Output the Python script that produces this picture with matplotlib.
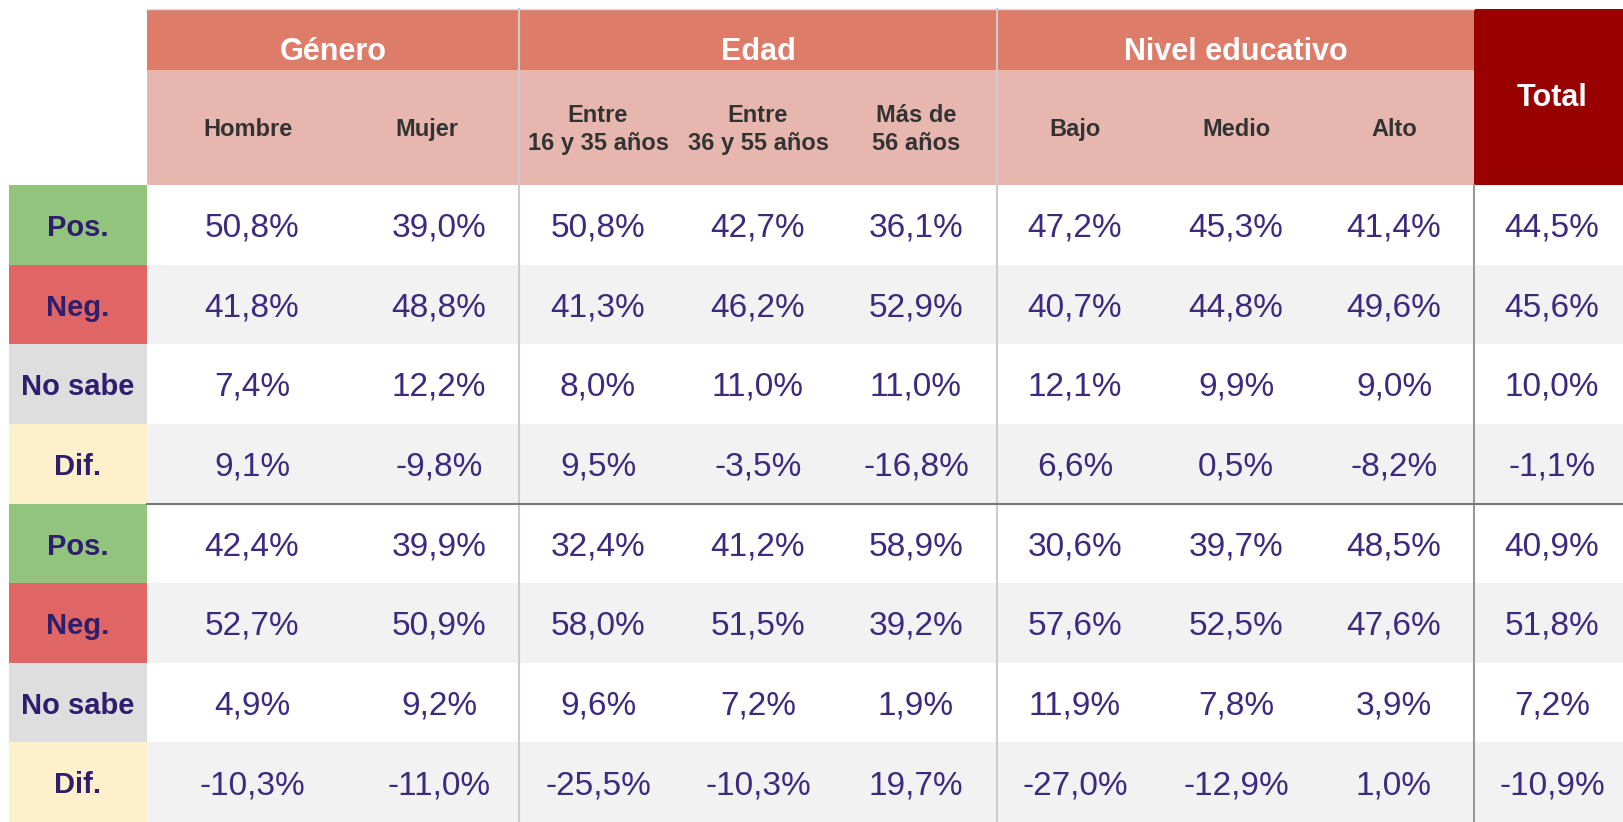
import matplotlib.pyplot as plt
from matplotlib.patches import Rectangle

plt.rcParams['font.family'] = ['Liberation Sans', 'DejaVu Sans']

groups = ["Género", "Edad", "Nivel educativo"]
subheaders = ["Hombre", "Mujer", "Entre\n16 y 35 años", "Entre\n36 y 55 años",
              "Más de\n56 años", "Bajo", "Medio", "Alto"]
row_labels = ["Pos.", "Neg.", "No sabe", "Dif."]

pos_1 = [50.8, 39.0, 50.8, 42.7, 36.1, 47.2, 45.3, 41.4, 44.5]
neg_1 = [41.8, 48.8, 41.3, 46.2, 52.9, 40.7, 44.8, 49.6, 45.6]
ns_1 = [7.4, 12.2, 8.0, 11.0, 11.0, 12.1, 9.9, 9.0, 10.0]
dif_1 = [9.1, -9.8, 9.5, -3.5, -16.8, 6.6, 0.5, -8.2, -1.1]

pos_2 = [42.4, 39.9, 32.4, 41.2, 58.9, 30.6, 39.7, 48.5, 40.9]
neg_2 = [52.7, 50.9, 58.0, 51.5, 39.2, 57.6, 52.5, 47.6, 51.8]
ns_2 = [4.9, 9.2, 9.6, 7.2, 1.9, 11.9, 7.8, 3.9, 7.2]
dif_2 = [-10.3, -11.0, -25.5, -10.3, 19.7, -27.0, -12.9, 1.0, -10.9]

rows = [pos_1, neg_1, ns_1, dif_1, pos_2, neg_2, ns_2, dif_2]

# layout (pixels)
W, H = 1623, 822
lab_x0, lab_x1 = 9, 147
group_edges = [147, 519, 997, 1474]
head_top, band_y, body_top = 9, 70, 185
row_h = (H - body_top) / 8
col_centers = [252, 439, 598, 758, 916, 1075, 1236, 1394, 1552]
sub_centers = [248, 427, 598, 758, 916, 1075, 1236, 1394]

label_colors = ["#93c47d", "#e06666", "#dedede", "#fff0cc"]
text_purple = "#2e1e6e"
val_purple = "#3b2a7f"

fig = plt.figure(figsize=(W / 100, H / 100), dpi=100)
ax = fig.add_axes([0, 0, 1, 1])
ax.set_xlim(0, W)
ax.set_ylim(H, 0)
ax.axis('off')

# header bands
for i, g in enumerate(groups):
    x0, x1 = group_edges[i], group_edges[i + 1]
    ax.add_patch(Rectangle((x0, head_top), x1 - x0, band_y - head_top, color="#de7c6a", lw=0))
    ax.add_patch(Rectangle((x0, band_y), x1 - x0, body_top - band_y, color="#e7b7af", lw=0))
    ax.text((x0 + x1) / 2, 59.5, g, ha='center', va='baseline',
            color='white', fontsize=22, fontweight='bold')
ax.plot([group_edges[0], group_edges[-1]], [head_top, head_top], color="#dddddd", lw=1)
ax.add_patch(Rectangle((group_edges[-1], head_top), W - group_edges[-1],
                       body_top - head_top, color="#990000", lw=0))
ax.text(col_centers[-1], 106.5, "Total", ha='center', va='baseline', color='white',
        fontsize=22, fontweight='bold')

for cx, s in zip(sub_centers, subheaders):
    lines = s.split("\n")
    for j, line in enumerate(lines):
        yb = 136 + (j - (len(lines) - 1) / 2) * 28.3
        ax.text(cx, yb, line, ha='center', va='baseline', color="#333333",
                fontsize=17, fontweight='bold')

# body rows
for r, vals in enumerate(rows):
    y0 = body_top + r * row_h
    bg = "white" if r % 2 == 0 else "#f2f2f2"
    ax.add_patch(Rectangle((lab_x1, y0), W - lab_x1, row_h, color=bg, lw=0))
    ax.add_patch(Rectangle((lab_x0, y0), lab_x1 - lab_x0, row_h,
                           color=label_colors[r % 4], lw=0))
    ax.text((lab_x0 + lab_x1) / 2, y0 + 51, row_labels[r % 4], ha='center', va='baseline',
            color=text_purple, fontsize=21, fontweight='bold')
    for cx, v in zip(col_centers, vals):
        s = f"{v:.1f}".replace('.', ',') + "%"
        ax.text(cx, y0 + 51.7, s, ha='center', va='baseline', color=val_purple, fontsize=24)

# separators
for x in group_edges[1:3]:
    ax.plot([x, x], [head_top, H], color="#cccccc", lw=1.5)
ax.plot([group_edges[3], group_edges[3]], [body_top, H], color="#999999", lw=1.5)
ax.plot([lab_x1, W], [body_top + 4 * row_h] * 2, color="#777777", lw=1.5)

fig.savefig("out.png", dpi=100)
